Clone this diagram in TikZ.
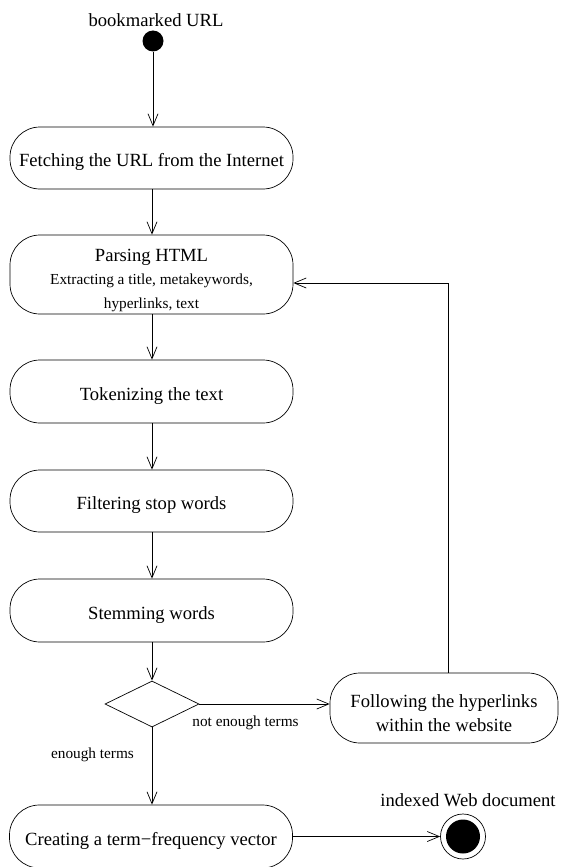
\documentclass[tikz,border=0pt]{standalone}
\usepackage{fontspec}
\setmainfont{Liberation Serif}
\usetikzlibrary{arrows.meta,shapes.geometric}
\begin{document}
\begin{tikzpicture}[x=1pt,y=-1pt,
  line width=0.7pt,
  big/.style={font=\fontsize{18.6}{24}\selectfont},
  small/.style={font=\fontsize{15.3}{23.5}\selectfont},
  activity/.style={draw,rounded corners=30pt,inner sep=0pt,minimum width=283pt,align=center,big},
  oneline/.style={text height=17pt,text depth=0pt},
  flow/.style={-{Straight Barb[length=12pt,width=10pt,line width=0.7pt]}}
]
\useasboundingbox (0,0) rectangle (561,867);

% start marker
\node[circle,fill=black,inner sep=0pt,minimum size=21pt] (start) at (153,41) {};
\node[big] (startlbl) at (156,20) {bookmarked URL};

% main activities
\node[activity,oneline,minimum height=62pt] (fetch) at (151.5,158) {Fetching the URL from the Internet};
\node[activity,minimum height=79pt] (parse) at (151.5,274.5) {};
\node[small,align=center] (parsetxt) at (151.5,280) {{\fontsize{18.6}{23}\selectfont Parsing HTML}\\Extracting a title, metakeywords,\\hyperlinks, text};
\node[activity,oneline,minimum height=63pt] (token) at (151.5,391.5) {Tokenizing the text};
\node[activity,oneline,minimum height=62pt] (filter) at (151.5,501) {Filtering stop words};
\node[activity,oneline,minimum height=63pt] (stem) at (151.5,610.5) {Stemming words};
\node[draw,diamond,inner sep=0pt,minimum width=94pt,minimum height=46pt] (dec) at (152,704) {};
\node[activity,minimum width=228pt,minimum height=70pt] (follow) at (444,708) {};
\node[big,align=center] (followtxt) at (444,713) {Following the hyperlinks\\within the website};
\node[activity,oneline,minimum height=63pt] (create) at (151,836.5) {Creating a term\textminus frequency vector};

% end marker
\node[circle,draw,inner sep=0pt,minimum size=45pt] (end) at (463,836.5) {};
\node[circle,fill=black,inner sep=0pt,minimum size=34pt] (endin) at (end.center) {};
\node[big] (endlbl) at (468,800) {indexed Web document};

% guard labels
\node[small] (notenough) at (245.5,723) {not enough terms};
\node[small] (enough) at (92.5,755) {enough terms};

% connectors
\draw[flow] (start.south) -- (start.south |- fetch.north);
\draw[flow] (fetch.south -| 152,0) -- (parse.north -| 152,0);
\draw[flow] (parse.south -| 152,0) -- (token.north -| 152,0);
\draw[flow] (token.south -| 152,0) -- (filter.north -| 152,0);
\draw[flow] (filter.south -| 152,0) -- (stem.north -| 152,0);
\draw[flow] (stem.south -| dec.north) -- (dec.north);
\draw[flow] (dec.south) -- (dec.south |- create.north);
\draw[flow] (dec.east) -- (dec.east -| follow.west);
\coordinate (turn) at (448,283);
\draw[flow] (follow.north -| turn) -- (turn) -- (turn -| parse.east);
\draw[flow] (create.east) -- (end.west);
\end{tikzpicture}
\end{document}
